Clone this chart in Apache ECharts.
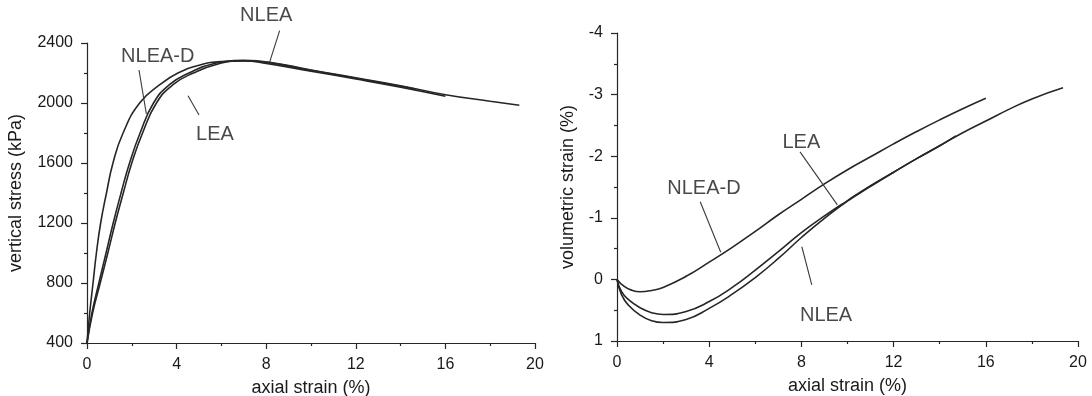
<!DOCTYPE html>
<html>
<head>
<meta charset="utf-8">
<script src="https://cdn.jsdelivr.net/npm/echarts@6/dist/echarts.min.js"></script>
<style>
  html, body { margin: 0; padding: 0; background: #fff; }
  #chart { width: 1092px; height: 396px; }
</style>
</head>
<body>
<div id="chart"></div>
<script>
// ---- left panel: vertical stress vs axial strain ----
const stressStrainD = [0, 0.12, 0.27, 0.42, 0.61, 0.87, 1.16, 1.61, 2.35, 3.25, 4.06, 5.0, 6.0, 7.0, 8.0, 10.0, 12.0, 14.0, 16.0];
const stressD = [400, 600, 800, 1000, 1200, 1400, 1600, 1800, 2000, 2122, 2200, 2252, 2276, 2280, 2264, 2212, 2160, 2105, 2045];

const stressStrainLEA = [0, 0.22, 0.53, 0.85, 1.17, 1.52, 1.9, 2.37, 2.97, 3.68, 4.55, 5.65, 7.0, 8.0, 10.0, 12.0, 14.0, 14.7];
const stressLEA = [400, 600, 800, 1000, 1200, 1400, 1600, 1800, 2000, 2122, 2200, 2262, 2282, 2272, 2218, 2165, 2112, 2092];

const stressStrainNLEA = [0, 0.25, 0.59, 0.93, 1.26, 1.62, 2.0, 2.48, 3.1, 3.84, 4.75, 5.85, 7.0, 8.15, 10.0, 12.0, 14.0, 16.0, 18.0, 19.3];
const stressNLEA = [400, 600, 800, 1000, 1200, 1400, 1600, 1800, 2000, 2122, 2200, 2260, 2284, 2272, 2220, 2168, 2115, 2055, 2012, 1985];

// ---- right panel: volumetric strain vs axial strain ----
const volStrainD = [0, 0.3, 0.6, 1.0, 1.5, 2.0, 3.0, 4.0, 5.0, 6.0, 7.0, 8.0, 9.0, 10.0, 11.0, 12.0, 13.0, 14.0, 15.0, 16.0];
const volD = [0, 0.11, 0.17, 0.2, 0.18, 0.13, -0.05, -0.28, -0.52, -0.78, -1.05, -1.3, -1.55, -1.78, -1.99, -2.2, -2.4, -2.59, -2.77, -2.94];

const volStrainLEA = [0, 0.2, 0.5, 1.0, 1.5, 2.0, 3.0, 4.0, 5.0, 6.0, 7.0, 8.0, 9.0, 10.0, 11.0, 12.0, 13.0, 14.0, 14.7];
const volLEA = [0, 0.2, 0.33, 0.46, 0.54, 0.57, 0.52, 0.36, 0.13, -0.15, -0.45, -0.76, -1.03, -1.28, -1.52, -1.74, -1.96, -2.17, -2.33];

const volStrainNLEA = [0, 0.2, 0.5, 1.0, 1.5, 2.0, 3.0, 4.0, 5.0, 6.0, 7.0, 8.0, 9.0, 10.0, 11.0, 12.0, 13.0, 14.0, 15.0, 16.0, 17.0, 18.0, 19.35];
const volNLEA = [0, 0.25, 0.42, 0.58, 0.67, 0.7, 0.65, 0.47, 0.24, -0.03, -0.34, -0.68, -0.99, -1.27, -1.51, -1.74, -1.96, -2.17, -2.38, -2.57, -2.76, -2.93, -3.11];

// annotation labels: [text, x, y] in data units, and pointer segments [x1, y1, x2, y2]
const leftLabels = [["NLEA-D", 3.16, 2310], ["LEA", 5.71, 1790], ["NLEA", 8.0, 2585]];
const leftPointers = [[2.32, 2220, 2.65, 1927], [4.51, 2049, 5.0, 1920], [8.6, 2482, 8.15, 2271]];
const rightLabels = [["NLEA-D", 3.77, -1.48], ["LEA", 8.0, -2.23], ["NLEA", 9.07, 0.58]];
const rightPointers = [[3.61, -1.26, 4.5, -0.44], [7.94, -2.07, 9.56, -1.21], [8.02, -0.53, 8.45, 0.09]];

const font = '"Liberation Sans", Arial, sans-serif';
const ink = "#262626";

const zip = (xs, ys) => xs.map((x, i) => [x, ys[i]]);

function curve(name, xs, ys, idx) {
  return {
    name,
    type: "line",
    xAxisIndex: idx,
    yAxisIndex: idx,
    smooth: 0.5,
    symbol: "none",
    data: zip(xs, ys),
    lineStyle: { color: ink, width: 1.6 },
    silent: true,
  };
}

function pointerSeries(segs, idx) {
  return segs.map((s) => ({
    type: "line",
    xAxisIndex: idx,
    yAxisIndex: idx,
    symbol: "none",
    clip: false,
    silent: true,
    data: [[s[0], s[1]], [s[2], s[3]]],
    lineStyle: { color: "#3a3a3a", width: 1.1 },
  }));
}

function labelSeries(labels, idx) {
  return {
    type: "scatter",
    xAxisIndex: idx,
    yAxisIndex: idx,
    clip: false,
    silent: true,
    symbolSize: 1,
    itemStyle: { color: "rgba(0,0,0,0)" },
    data: labels.map((l) => ({ value: [l[1], l[2]], name: l[0] })),
    label: {
      show: true,
      position: "inside",
      formatter: (p) => p.name,
      color: "#1a1a1a",
      fontFamily: font,
      fontSize: 20,
    },
  };
}

const axisLine = { show: true, onZero: false, lineStyle: { color: ink, width: 1.2 } };
const tickStyle = { color: ink, width: 1.2 };
const plain = (v) => String(v);

function xAxisCfg(idx) {
  return {
    gridIndex: idx,
    type: "value",
    min: 0,
    max: 20,
    interval: 4,
    name: "axial strain (%)",
    nameLocation: "middle",
    nameGap: 36,
    nameTextStyle: { color: "#1a1a1a", fontFamily: font, fontSize: 18 },
    axisLine,
    axisTick: { show: true, length: 6, lineStyle: tickStyle },
    minorTick: { show: true, splitNumber: 2, length: 3, lineStyle: tickStyle },
    splitLine: { show: false },
    axisLabel: { color: "#1a1a1a", fontFamily: font, fontSize: 16, margin: 14, formatter: plain },
  };
}

const option = {
  animation: false,
  backgroundColor: "#fff",
  grid: [
    { left: 87, right: 557, top: 43, bottom: 53, outerBoundsMode: "none" },
    { left: 617, right: 14, top: 33, bottom: 55, outerBoundsMode: "none" },
  ],
  xAxis: [xAxisCfg(0), xAxisCfg(1)],
  yAxis: [
    {
      gridIndex: 0,
      type: "value",
      min: 400,
      max: 2400,
      interval: 400,
      name: "vertical stress (kPa)",
      nameLocation: "middle",
      nameGap: 62,
      nameTextStyle: { color: "#1a1a1a", fontFamily: font, fontSize: 18 },
      axisLine,
      axisTick: { show: true, length: 6, lineStyle: tickStyle },
      minorTick: { show: true, splitNumber: 2, length: 3, lineStyle: tickStyle },
      splitLine: { show: false },
      axisLabel: { color: "#1a1a1a", fontFamily: font, fontSize: 16, margin: 14, formatter: plain },
    },
    {
      gridIndex: 1,
      type: "value",
      min: -4,
      max: 1,
      interval: 1,
      inverse: true,
      name: "volumetric strain (%)",
      nameLocation: "middle",
      nameGap: 40,
      nameTextStyle: { color: "#1a1a1a", fontFamily: font, fontSize: 18 },
      axisLine,
      axisTick: { show: true, length: 6, lineStyle: tickStyle },
      minorTick: { show: true, splitNumber: 2, length: 3, lineStyle: tickStyle },
      splitLine: { show: false },
      axisLabel: { color: "#1a1a1a", fontFamily: font, fontSize: 16, margin: 14, formatter: plain },
    },
  ],
  series: [
    curve("NLEA-D", stressStrainD, stressD, 0),
    curve("LEA", stressStrainLEA, stressLEA, 0),
    curve("NLEA", stressStrainNLEA, stressNLEA, 0),
    curve("NLEA-D", volStrainD, volD, 1),
    curve("LEA", volStrainLEA, volLEA, 1),
    curve("NLEA", volStrainNLEA, volNLEA, 1),
    ...pointerSeries(leftPointers, 0),
    ...pointerSeries(rightPointers, 1),
    labelSeries(leftLabels, 0),
    labelSeries(rightLabels, 1),
  ],
};

const chart = echarts.init(document.getElementById("chart"), null, { renderer: "canvas" });
chart.setOption(option);
</script>
</body>
</html>
